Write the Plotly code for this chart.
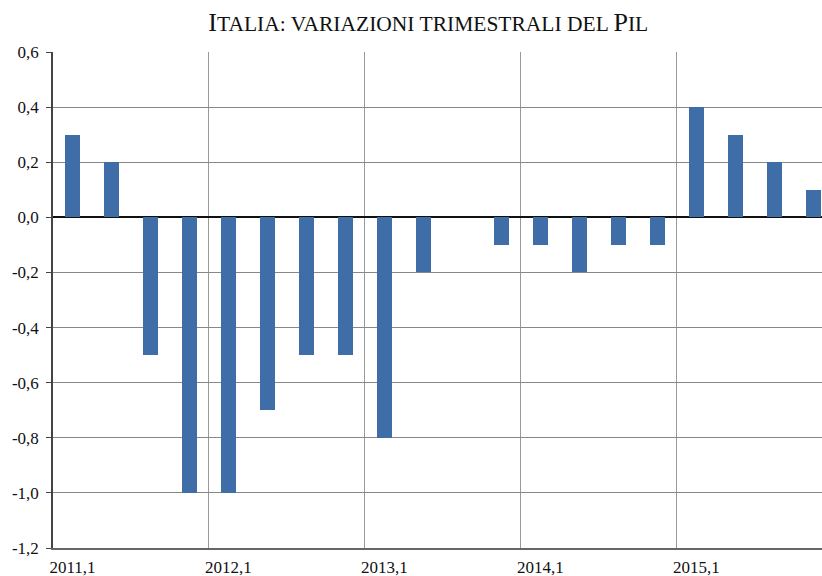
import plotly.graph_objects as go

quarters = ["2011,1", "2011,2", "2011,3", "2011,4",
            "2012,1", "2012,2", "2012,3", "2012,4",
            "2013,1", "2013,2", "2013,3", "2013,4",
            "2014,1", "2014,2", "2014,3", "2014,4",
            "2015,1", "2015,2", "2015,3", "2015,4"]
values = [0.3, 0.2, -0.5, -1.0,
          -1.0, -0.7, -0.5, -0.5,
          -0.8, -0.2, 0.0, -0.1,
          -0.1, -0.2, -0.1, -0.1,
          0.4, 0.3, 0.2, 0.1]
y_ticks = [0.6, 0.4, 0.2, 0.0, -0.2, -0.4, -0.6, -0.8, -1.0, -1.2]
y_ticktext = [f"{v:.1f}".replace(".", ",") for v in y_ticks]

x_idx = list(range(len(quarters)))
label_idx = [i for i, q in enumerate(quarters) if q.endswith(",1")]

SERIF = "Liberation Serif, Times New Roman, serif"

fig = go.Figure(go.Bar(
    x=x_idx, y=values, width=0.39,
    marker=dict(color="#3F6DA8", line=dict(width=0)),
    hovertext=quarters,
))

title = ("I<span style='font-size:21.5px'>TALIA: VARIAZIONI TRIMESTRALI DEL </span>"
         "P<span style='font-size:21.5px'>IL</span>")

fig.update_layout(
    width=822, height=576,
    margin=dict(l=53, r=0, t=52, b=28, autoexpand=False),
    paper_bgcolor="white", plot_bgcolor="white",
    font=dict(family=SERIF, size=17, color="#111111"),
    title=dict(text=title, x=0.521, xanchor="center", y=0.962, yanchor="middle",
               font=dict(family=SERIF, size=26, color="#111111")),
    showlegend=False,
    bargap=0,
)
fig.update_xaxes(
    automargin=False,
    range=[-0.5, 19.22],
    tickmode="array", tickvals=label_idx,
    ticktext=[quarters[i] for i in label_idx],
    ticks="", showgrid=False, zeroline=False,
    showline=True, linecolor="#666666", linewidth=2,
    minor=dict(tickmode="linear", tick0=-0.5, dtick=4, showgrid=True,
               gridcolor="#999999", gridwidth=1, ticks=""),
    tickfont=dict(family=SERIF, size=17, color="#111111"), ticklabelstandoff=3,
)
fig.update_yaxes(
    automargin=False,
    range=[-1.2, 0.6],
    tickmode="array", tickvals=y_ticks, ticktext=y_ticktext,
    ticks="outside", ticklen=5, tickcolor="#444444",
    showgrid=True, gridcolor="#888888", gridwidth=1,
    zeroline=True, zerolinecolor="#111111", zerolinewidth=1.5,
    showline=True, linecolor="#444444", linewidth=1.5,
    tickfont=dict(family=SERIF, size=17, color="#111111"), ticklabelstandoff=4,
)
fig.write_html("out.html", config={"displayModeBar": False},
               post_script="document.body.style.margin='0';document.body.style.overflow='hidden';")
